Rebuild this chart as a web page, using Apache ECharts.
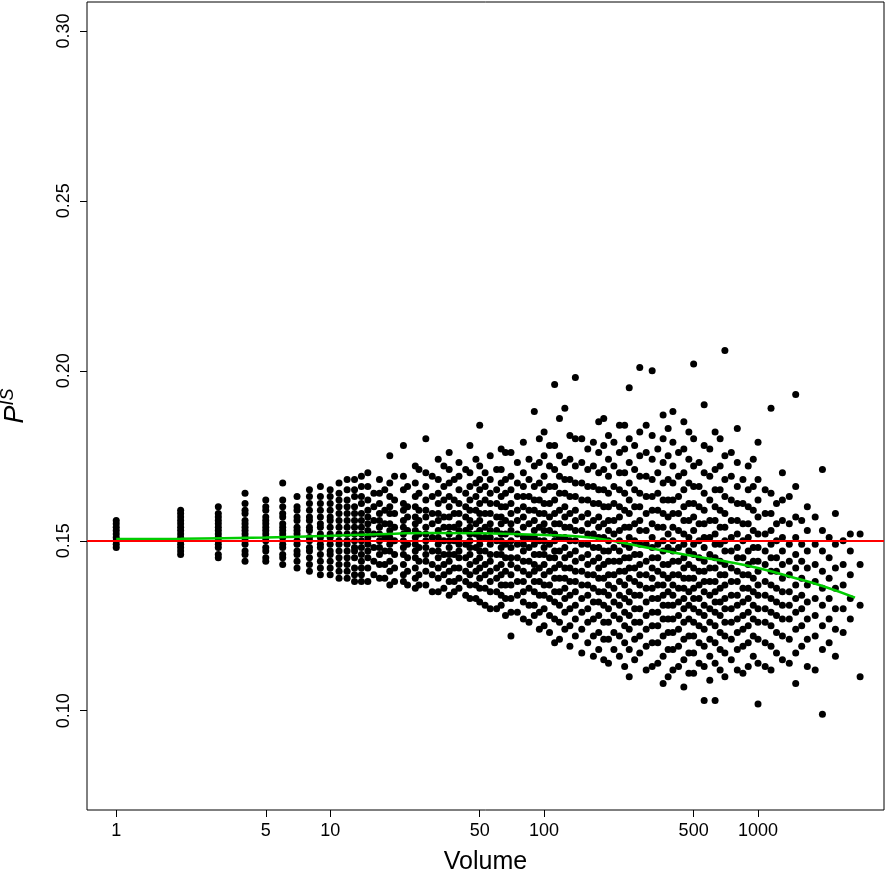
<!DOCTYPE html>
<html><head><meta charset="utf-8">
<script src="https://cdn.jsdelivr.net/npm/echarts@6/dist/echarts.min.js"></script>
<style>html,body{margin:0;padding:0;background:#fff}#c{width:886px;height:886px}</style>
</head><body><div id="c"></div>
<script>
const xTicks = [1, 5, 10, 50, 100, 500, 1000];
const yTicks = [0.10, 0.15, 0.20, 0.25, 0.30];
const refLine = 0.15;
const volumes = [1,2,3,4,5,6,7,8,9,10,11,12,13,14,15,17,19,22,25,28,32,36,40,45,50,56,63,70,80,90,100,112,125,140,160,180,200,225,250,280,320,360,400,450,500,560,630,700,800,900,1000,1150,1300,1500,1700,2000,2300,2700,3000];
const values = [
[.148,.149,.150,.151,.152,.153,.154,.155,.156],
[.146,.147,.148,.149,.150,.151,.152,.153,.154,.155,.156,.157,.158,.159],
[.145,.146,.148,.149,.150,.151,.152,.153,.154,.155,.156,.157,.158,.160],
[.144,.146,.147,.149,.150,.151,.152,.153,.154,.155,.156,.158,.159,.161,.164],
[.144,.145,.147,.148,.150,.151,.152,.153,.154,.155,.156,.157,.159,.160,.162],
[.143,.145,.146,.148,.149,.151,.152,.153,.154,.155,.157,.158,.160,.162,.167],
[.142,.144,.146,.147,.149,.150,.152,.153,.154,.156,.157,.159,.160,.163],
[.141,.143,.145,.147,.148,.150,.151,.153,.154,.156,.157,.159,.161,.163,.165],
[.140,.142,.144,.146,.148,.149,.151,.152,.154,.155,.157,.159,.161,.163,.166],
[.140,.142,.144,.146,.147,.149,.151,.152,.154,.156,.157,.159,.161,.163,.165],
[.139,.141,.143,.145,.147,.149,.150,.152,.154,.156,.158,.160,.162,.164,.167],
[.139,.141,.143,.145,.147,.149,.150,.152,.154,.156,.158,.160,.162,.165,.168],
[.138,.140,.142,.145,.147,.148,.150,.152,.154,.156,.158,.160,.163,.165,.168],
[.138,.140,.142,.144,.146,.148,.150,.152,.154,.156,.158,.161,.163,.166,.169],
[.138,.142,.145,.147,.149,.151,.153,.155,.157,.159,.162,.166,.170],
[.139,.143,.146,.148,.150,.152,.154,.156,.158,.161,.164,.168],
[.137,.141,.144,.147,.149,.151,.153,.155,.158,.160,.163,.167,.175],
[.138,.140,.143,.146,.148,.150,.152,.154,.156,.159,.161,.165,.169,.178],
[.136,.139,.142,.145,.147,.149,.151,.153,.155,.157,.160,.163,.167,.172],
[.137,.141,.144,.146,.148,.150,.152,.154,.157,.159,.162,.166,.170,.180],
[.135,.139,.142,.145,.147,.149,.151,.153,.156,.158,.161,.164,.168,.174],
[.134,.138,.141,.144,.146,.148,.150,.152,.154,.157,.160,.163,.167,.171,.176],
[.136,.139,.142,.145,.147,.149,.151,.153,.155,.158,.161,.165,.169,.173],
[.133,.137,.140,.143,.146,.148,.150,.152,.154,.156,.159,.162,.166,.170,.178],
[.132,.136,.139,.142,.145,.147,.149,.151,.153,.156,.158,.161,.165,.168,.172,.184],
[.130,.135,.138,.141,.144,.146,.149,.151,.153,.155,.158,.161,.164,.168,.175],
[.131,.134,.137,.140,.143,.146,.148,.150,.152,.155,.157,.160,.163,.167,.171,.177],
[.122,.129,.133,.137,.140,.143,.145,.148,.150,.153,.155,.158,.161,.165,.169,.176],
[.127,.132,.135,.138,.141,.144,.147,.149,.151,.154,.157,.160,.163,.166,.170,.179],
[.128,.131,.135,.138,.141,.143,.146,.149,.151,.153,.156,.159,.162,.166,.172,.188],
[.125,.130,.134,.137,.140,.143,.146,.148,.150,.153,.155,.158,.161,.165,.169,.175,.182],
[.120,.127,.132,.135,.139,.142,.145,.147,.150,.152,.155,.158,.162,.166,.171,.178,.196],
[.124,.129,.133,.136,.139,.142,.145,.148,.151,.154,.157,.160,.164,.168,.173,.189],
[.122,.127,.131,.135,.138,.141,.144,.147,.150,.153,.156,.159,.163,.167,.172,.180,.198],
[.120,.126,.130,.134,.137,.140,.143,.146,.149,.152,.155,.158,.162,.166,.171,.177],
[.118,.123,.128,.132,.135,.139,.142,.145,.148,.151,.154,.157,.161,.165,.170,.176,.185],
[.114,.121,.126,.130,.134,.137,.140,.144,.147,.150,.153,.156,.160,.164,.169,.174,.181],
[.116,.122,.127,.131,.134,.138,.141,.144,.147,.150,.153,.157,.160,.165,.170,.176,.184],
[.110,.118,.124,.128,.132,.135,.139,.142,.145,.148,.151,.154,.158,.162,.167,.173,.180,.195],
[.117,.122,.126,.130,.134,.137,.140,.143,.146,.149,.153,.156,.160,.164,.169,.175,.182,.201],
[.113,.120,.125,.129,.133,.136,.139,.142,.145,.148,.151,.155,.159,.163,.168,.174,.181,.200],
[.108,.116,.122,.127,.131,.134,.137,.140,.143,.147,.150,.154,.158,.162,.167,.173,.180,.187],
[.112,.118,.123,.127,.131,.134,.137,.140,.144,.147,.150,.154,.158,.162,.167,.172,.179,.188],
[.107,.115,.121,.126,.130,.133,.136,.139,.142,.145,.149,.152,.156,.160,.165,.170,.177,.185],
[.111,.117,.122,.126,.130,.133,.136,.139,.142,.146,.149,.153,.157,.161,.166,.172,.180,.202],
[.103,.113,.119,.124,.128,.131,.135,.138,.141,.144,.148,.151,.155,.159,.164,.170,.178,.190],
[.103,.114,.120,.125,.129,.132,.135,.138,.142,.145,.149,.152,.156,.160,.165,.171,.182],
[.110,.117,.122,.126,.130,.133,.137,.140,.143,.147,.150,.154,.158,.163,.168,.175,.206],
[.112,.118,.123,.127,.131,.134,.138,.141,.145,.148,.152,.156,.161,.166,.173,.183],
[.113,.120,.125,.129,.133,.136,.140,.143,.147,.151,.155,.160,.165,.172],
[.102,.114,.121,.126,.130,.134,.137,.141,.144,.148,.152,.157,.162,.168,.179],
[.112,.119,.125,.129,.133,.137,.141,.145,.149,.153,.158,.164,.189],
[.115,.122,.127,.131,.135,.139,.143,.147,.151,.156,.162,.170],
[.108,.117,.124,.129,.133,.137,.142,.146,.151,.157,.166,.193],
[.113,.121,.127,.132,.137,.142,.147,.153,.160],
[.099,.118,.125,.131,.136,.141,.147,.153,.171],
[.116,.124,.130,.136,.142,.149,.158],
[.127,.133,.140,.147,.152],
[.110,.131,.143,.152]
];
const volumes2 = [16,18,20,23,26,30,34,38,43,48,53,60,66,75,85,95,106,118,132,150,170,190,212,238,265,300,340,380,425,475,530,595,665,750,850,950,1080,1220,1400,1600,1850,2150,2500];
const values2 = [
[.140,.144,.148,.152,.156,.160,.164],
[.139,.143,.147,.151,.155,.159,.165],
[.138,.142,.146,.150,.154,.158,.162,.169],
[.137,.141,.145,.149,.153,.157,.160,.166],
[.137,.140,.144,.148,.152,.156,.159,.164,.171],
[.135,.140,.143,.147,.151,.155,.158,.163,.169],
[.136,.140,.143,.146,.150,.154,.157,.162,.166,.172],
[.135,.138,.142,.146,.150,.154,.158,.162,.168],
[.134,.138,.141,.145,.149,.153,.157,.160,.164,.171],
[.133,.137,.141,.144,.148,.152,.155,.159,.163,.167,.174],
[.131,.136,.140,.143,.147,.151,.154,.158,.162,.166,.170],
[.130,.135,.139,.142,.146,.150,.153,.157,.161,.165,.171],
[.128,.133,.137,.141,.145,.149,.152,.156,.160,.164,.168,.176],
[.129,.134,.138,.142,.145,.149,.152,.156,.159,.163,.167,.173],
[.126,.131,.136,.140,.144,.148,.151,.155,.159,.163,.168,.174],
[.124,.129,.134,.138,.142,.146,.150,.154,.158,.162,.167,.173,.180],
[.123,.128,.133,.137,.141,.145,.149,.153,.157,.161,.166,.172,.178],
[.121,.126,.131,.135,.139,.143,.147,.151,.155,.159,.164,.169,.175,.186],
[.119,.125,.130,.134,.138,.142,.146,.150,.154,.158,.163,.168,.174,.181],
[.117,.124,.129,.133,.137,.141,.145,.149,.153,.157,.162,.167,.173,.180],
[.116,.122,.127,.132,.136,.140,.144,.148,.152,.156,.161,.166,.172,.179],
[.115,.121,.126,.131,.135,.139,.143,.147,.151,.155,.160,.165,.171,.178,.186],
[.118,.123,.128,.132,.136,.140,.144,.148,.152,.156,.161,.166,.172,.179],
[.113,.120,.125,.129,.133,.137,.141,.145,.149,.154,.159,.164,.170,.177,.184],
[.115,.121,.126,.130,.134,.138,.142,.146,.150,.155,.160,.165,.171,.178],
[.112,.119,.124,.128,.132,.136,.140,.144,.149,.153,.158,.163,.169,.176,.184],
[.114,.120,.125,.129,.133,.137,.141,.145,.149,.154,.159,.164,.170,.177],
[.110,.118,.123,.127,.131,.135,.139,.143,.148,.152,.157,.162,.168,.175,.183],
[.113,.119,.124,.128,.132,.136,.140,.144,.148,.153,.158,.163,.169,.176],
[.111,.117,.122,.127,.131,.135,.139,.143,.147,.151,.156,.161,.167,.174,.182],
[.114,.120,.125,.129,.133,.137,.141,.145,.150,.155,.160,.166,.173],
[.109,.116,.121,.126,.130,.134,.138,.142,.146,.151,.156,.162,.169,.177],
[.112,.118,.123,.128,.132,.136,.140,.144,.149,.154,.159,.165,.172,.180],
[.115,.121,.126,.130,.134,.138,.142,.147,.151,.156,.162,.169,.176],
[.111,.119,.124,.128,.132,.136,.140,.145,.150,.155,.161,.168],
[.116,.122,.127,.131,.135,.139,.144,.148,.153,.159,.166,.174],
[.113,.120,.126,.130,.134,.138,.143,.147,.152,.158,.165],
[.117,.123,.128,.132,.136,.141,.145,.150,.155,.161],
[.114,.121,.127,.131,.135,.140,.144,.149,.155,.163],
[.119,.125,.130,.134,.139,.144,.149,.156],
[.112,.122,.128,.133,.138,.143,.149,.157],
[.120,.127,.133,.139,.145,.151],
[.123,.130,.137,.143,.150]
];
const smoothX = [1, 2, 5, 10, 20, 30, 50, 100, 150, 200, 300, 500, 700, 1000, 1500, 2000, 2840];
const smoothY = [0.1505, 0.1506, 0.1510, 0.1515, 0.1521, 0.1523, 0.1522, 0.1517, 0.1512, 0.1502, 0.1480, 0.1455, 0.1440, 0.1420, 0.1390, 0.1367, 0.1333];

const pts = [];
volumes.forEach((v, i) => values[i].forEach(y => pts.push([v, y])));
volumes2.forEach((v, i) => values2[i].forEach(y => pts.push([v, y])));
const smooth = smoothX.map((x, i) => [x, smoothY[i]]);

const chart = echarts.init(document.getElementById('c'));
chart.setOption({
  animation: false,
  grid: {left: 87, right: 2, top: 2, bottom: 76, show: true, borderColor: '#000', borderWidth: 1, containLabel: false, outerBoundsMode: 'none'},
  xAxis: {
    type: 'log', logBase: 10, min: 0.73, max: 3880,
    name: 'Volume', nameLocation: 'middle', nameGap: 40,
    nameTextStyle: {fontSize: 25, color: '#000', fontFamily: 'Liberation Sans'},
    axisLine: {show: false},
    splitLine: {show: false},
    axisTick: {show: true, length: 7, lineStyle: {color: '#000'}, customValues: xTicks},
    axisLabel: {customValues: xTicks, fontSize: 18, color: '#000', margin: 12, fontFamily: 'Liberation Sans', formatter: v => String(Math.round(v))}
  },
  yAxis: {
    type: 'value', min: 0.0708, max: 0.3085,
    name: '{p|P}{s|IS}', nameLocation: 'middle', nameGap: 56, nameRotate: 90,
    nameTextStyle: {rich: {p: {fontSize: 27, fontStyle: 'italic', color: '#000', fontFamily: 'Liberation Sans'}, s: {fontSize: 18, fontStyle: 'italic', color: '#000', verticalAlign: 'top', padding: [0,0,14,0], fontFamily: 'Liberation Sans'}}},
    axisLine: {show: false},
    splitLine: {show: false},
    axisTick: {show: true, length: 7, lineStyle: {color: '#000'}, customValues: yTicks},
    axisLabel: {customValues: yTicks, rotate: 90, fontSize: 18, color: '#000', margin: 14, fontFamily: 'Liberation Sans', formatter: v => v.toFixed(2)}
  },
  series: [
    {type: 'scatter', data: pts, symbolSize: 7, itemStyle: {color: '#000', opacity: 1}, z: 2},
    {type: 'line', data: smooth, smooth: true, symbol: 'none', lineStyle: {color: '#00cc00', width: 2.5}, z: 4,
     markLine: {silent: true, symbol: 'none', label: {show: false}, lineStyle: {color: '#ff0000', width: 2, type: 'solid'}, data: [{yAxis: refLine}]}}
  ]
});
</script></body></html>
